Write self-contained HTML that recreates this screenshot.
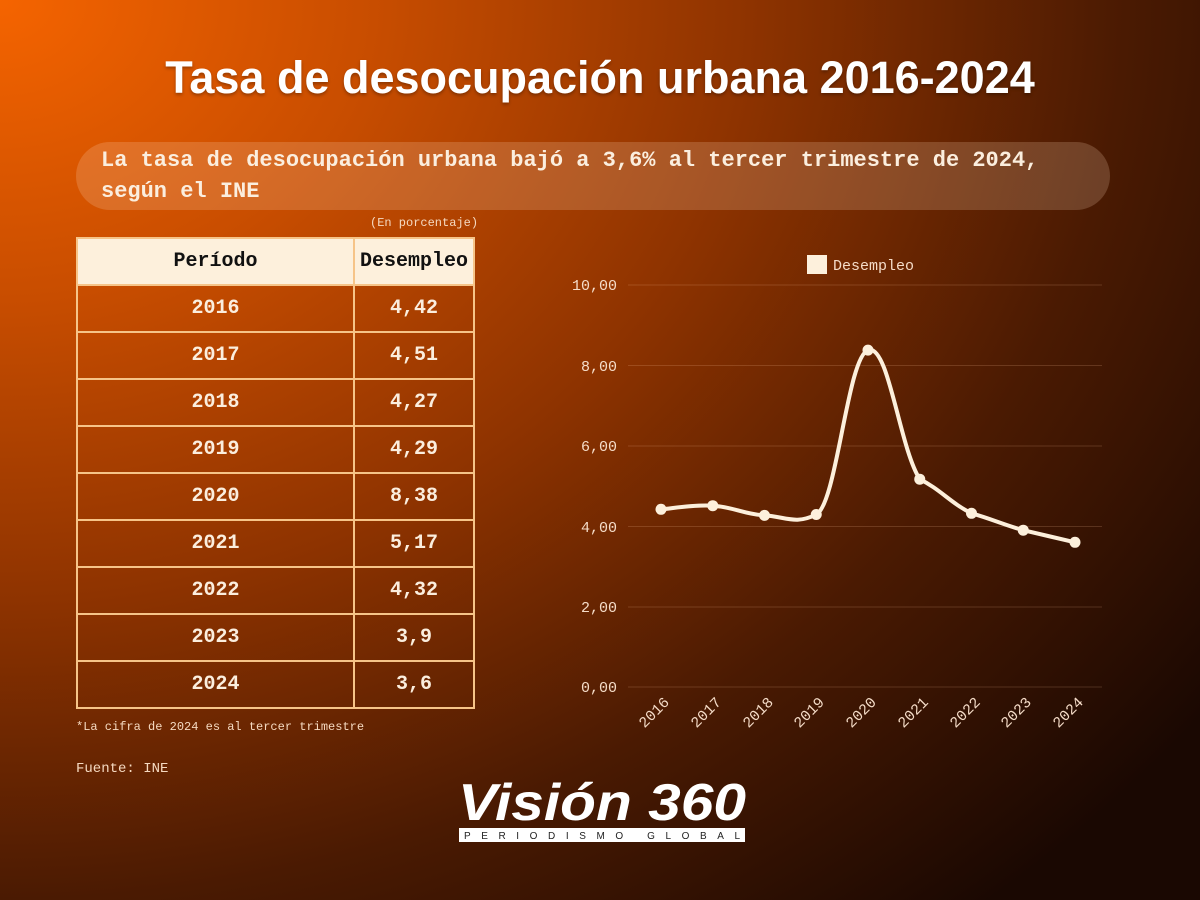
<!DOCTYPE html>
<html><head><meta charset="utf-8"><style>
body{margin:0;width:1200px;height:900px;overflow:hidden;font-family:"Liberation Sans",sans-serif}
.bg{position:absolute;inset:0;background:radial-gradient(ellipse 1500px 1200px at 0px 0px,#f56400 0%,#c84d00 25%,#8e3300 50%,#4a1a02 75%,#1a0802 100%)}
.t{position:absolute;top:52px;left:0;width:1200px;text-align:center;color:#fff;font-weight:bold;font-size:45px;text-shadow:0 2px 3px rgba(0,0,0,.3)}
.sub{position:absolute;left:76px;top:142px;width:1034px;height:68px;border-radius:34px;background:rgba(255,220,190,.2)}
.sub div{position:absolute;left:25px;top:3px;color:#fbeede;font:bold 22px/31px "Liberation Mono",monospace;white-space:nowrap}
.mono{font-family:"Liberation Mono",monospace}
table{position:absolute;left:76px;top:237px;border-collapse:collapse}
td{border:2px solid #f6c488;height:45px;text-align:center;color:#fbeede;font:bold 20px "Liberation Mono",monospace;padding:0}
tr:first-child td{background:#fdf0dc;color:#111}
</style></head><body>
<div class="bg"></div>
<div class="t">Tasa de desocupación urbana 2016-2024</div>
<div class="sub"><div>La tasa de desocupación urbana bajó a 3,6% al tercer trimestre de 2024,<br>según el INE</div></div>
<div class="mono" style="position:absolute;left:370px;top:216px;font-size:12px;color:#f5d9c0">(En porcentaje)</div>
<table>
<tr><td style="width:275px">Período</td><td style="width:118px">Desempleo</td></tr>
<tr><td>2016</td><td>4,42</td></tr><tr><td>2017</td><td>4,51</td></tr><tr><td>2018</td><td>4,27</td></tr>
<tr><td>2019</td><td>4,29</td></tr><tr><td>2020</td><td>8,38</td></tr><tr><td>2021</td><td>5,17</td></tr>
<tr><td>2022</td><td>4,32</td></tr><tr><td>2023</td><td>3,9</td></tr><tr><td>2024</td><td>3,6</td></tr>
</table>
<div class="mono" style="position:absolute;left:76px;top:720px;font-size:12px;color:#f5d9c0">*La cifra de 2024 es al tercer trimestre</div>
<div class="mono" style="position:absolute;left:76px;top:761px;font-size:14px;color:#f5d9c0">Fuente: INE</div>
<svg style="position:absolute;left:0;top:0" width="1200" height="900">
<g stroke="rgba(255,200,160,.18)" stroke-width="1">
<line x1="628" x2="1102" y1="285" y2="285"/><line x1="628" x2="1102" y1="365.5" y2="365.5"/><line x1="628" x2="1102" y1="446" y2="446"/><line x1="628" x2="1102" y1="526.5" y2="526.5"/><line x1="628" x2="1102" y1="607" y2="607"/><line x1="628" x2="1102" y1="687" y2="687"/>
</g>
<g font-family="Liberation Mono,monospace" font-size="15" fill="#f5dcc8" text-anchor="end">
<text x="617" y="290">10,00</text><text x="617" y="371">8,00</text><text x="617" y="451">6,00</text><text x="617" y="532">4,00</text><text x="617" y="612">2,00</text><text x="617" y="692">0,00</text>
</g>
<g font-family="Liberation Mono,monospace" font-size="15" fill="#f5dcc8" text-anchor="end">
<text transform="translate(670,703) rotate(-45)">2016</text><text transform="translate(722,703) rotate(-45)">2017</text><text transform="translate(774,703) rotate(-45)">2018</text><text transform="translate(825,703) rotate(-45)">2019</text><text transform="translate(877,703) rotate(-45)">2020</text><text transform="translate(929,703) rotate(-45)">2021</text><text transform="translate(981,703) rotate(-45)">2022</text><text transform="translate(1032,703) rotate(-45)">2023</text><text transform="translate(1084,703) rotate(-45)">2024</text>
</g>
<rect x="807" y="255" width="20" height="19" fill="#fdf0dc"/>
<text x="833" y="270" font-family="Liberation Mono,monospace" font-size="15" fill="#f5dcc8">Desempleo</text>
<path fill="none" stroke="#fdf0dc" stroke-width="4" d="M661,509.3 C671.35,508.6 692.05,504.5 712.75,505.7 C733.45,506.9 743.8,514.2 764.5,515.4 C785.2,516.6 795.55,525 816.25,514.5 C836.95,504 847.3,357.2 868,350.1 C888.7,343 899.05,446.6 919.75,479.2 C940.45,489.4 950.8,503.1 971.5,513.3 C992.2,519.1 1002.55,524.4 1023.25,530.2 C1033.6,532.6 1064.65,539.9 1075,542.3"/>
<g fill="#fdf0dc"><circle cx="661" cy="509.3" r="5.5"/><circle cx="712.75" cy="505.7" r="5.5"/><circle cx="764.5" cy="515.4" r="5.5"/><circle cx="816.25" cy="514.5" r="5.5"/><circle cx="868" cy="350.1" r="5.5"/><circle cx="919.75" cy="479.2" r="5.5"/><circle cx="971.5" cy="513.3" r="5.5"/><circle cx="1023.25" cy="530.2" r="5.5"/><circle cx="1075" cy="542.3" r="5.5"/></g>
<text x="458" y="820" font-family="Liberation Sans,sans-serif" font-weight="bold" font-style="italic" font-size="52" fill="#fff" textLength="288" lengthAdjust="spacingAndGlyphs">Visión 360</text>
<rect x="459" y="828" width="286" height="14" fill="#fff"/>
<text x="464" y="839" font-family="Liberation Sans,sans-serif" font-size="10" fill="#222" textLength="276" lengthAdjust="spacing">PERIODISMO GLOBAL</text>
</svg>
</body></html>
